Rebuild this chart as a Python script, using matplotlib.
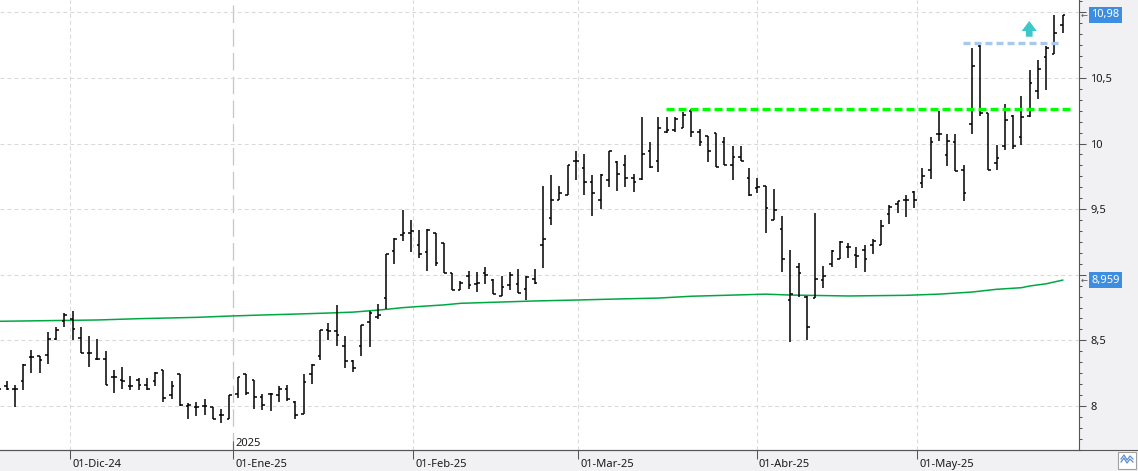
import matplotlib
matplotlib.use('Agg')
import matplotlib.pyplot as plt
import matplotlib.ticker as mticker
from matplotlib.patches import Rectangle
from matplotlib.lines import Line2D
import numpy as np

# one OHLC bar per session, index 0 = first (partly hidden) session
opens = [8.13, 8.15, 8.13, 8.19, 8.37, 8.38, 8.39, 8.51, 8.65, 8.66,
         8.52, 8.40, 8.36, 8.36, 8.22, 8.20, 8.15, 8.20, 8.16, 8.19,
         8.27, 8.08, 8.24, 8.00, 7.99, 8.00, 7.99, 7.93, 7.90, 8.09,
         8.24, 8.20, 8.07, 8.09, 8.08, 8.13, 8.03, 7.94, 8.24, 8.38,
         8.58, 8.57, 8.46, 8.34, 8.46, 8.64, 8.68, 8.82, 9.18, 9.30,
         9.32, 9.23, 9.17, 9.32, 9.24, 9.01, 8.88, 8.99, 8.93, 9.01,
         8.96, 8.84, 8.92, 8.93, 8.89, 8.97, 9.23, 9.43, 9.57, 9.61,
         9.87, 9.81, 9.71, 9.57, 9.72, 9.86, 9.84, 9.74, 9.73, 9.94,
         9.87, 10.09, 10.10, 10.12, 10.25, 10.09, 10.06, 10.08, 10.01, 9.84,
         9.90, 9.74, 9.66, 9.68, 9.42, 9.35, 8.81, 9.06, 8.83, 8.82,
         8.96, 9.08, 9.12, 9.21, 9.15, 9.19, 9.23, 9.23, 9.46, 9.54,
         9.57, 9.63, 9.70, 9.80, 10.07, 9.91, 10.01, 9.80, 10.15, 10.74,
         10.23, 9.85, 9.98, 10.21, 10.05, 10.21, 10.40, 10.66, 10.68, 10.90]
highs = [8.16, 8.19, 8.16, 8.32, 8.43, 8.38, 8.56, 8.60, 8.71, 8.72,
         8.60, 8.53, 8.51, 8.42, 8.27, 8.30, 8.23, 8.21, 8.21, 8.26,
         8.27, 8.19, 8.24, 8.02, 8.03, 8.05, 7.99, 7.98, 8.08, 8.22,
         8.24, 8.20, 8.09, 8.10, 8.15, 8.16, 8.04, 8.24, 8.32, 8.58,
         8.63, 8.77, 8.53, 8.35, 8.62, 8.72, 8.78, 9.16, 9.28, 9.49,
         9.42, 9.34, 9.35, 9.32, 9.24, 9.01, 8.95, 9.03, 9.02, 9.06,
         8.97, 8.99, 9.02, 9.04, 8.99, 9.04, 9.68, 9.76, 9.68, 9.84,
         9.94, 9.92, 9.76, 9.77, 9.94, 9.87, 9.91, 9.77, 10.20, 10.01,
         10.20, 10.20, 10.20, 10.24, 10.26, 10.11, 10.06, 10.08, 10.05, 9.98,
         9.98, 9.81, 9.74, 9.68, 9.65, 9.45, 9.19, 9.09, 8.84, 9.47,
         9.07, 9.19, 9.26, 9.24, 9.21, 9.23, 9.27, 9.42, 9.53, 9.56,
         9.61, 9.64, 9.81, 10.05, 10.25, 10.07, 10.07, 9.84, 10.73, 10.75,
         10.23, 9.99, 10.30, 10.22, 10.36, 10.56, 10.64, 10.74, 10.98, 10.98]
lows = [8.10, 8.12, 7.99, 8.12, 8.25, 8.25, 8.32, 8.50, 8.60, 8.50,
        8.40, 8.30, 8.35, 8.16, 8.10, 8.13, 8.12, 8.12, 8.12, 8.15,
        8.03, 8.05, 8.00, 7.90, 7.92, 7.93, 7.90, 7.87, 7.90, 8.06,
        8.08, 7.98, 7.97, 7.96, 8.03, 8.04, 7.90, 7.94, 8.17, 8.35,
        8.50, 8.46, 8.29, 8.26, 8.38, 8.45, 8.66, 8.74, 9.08, 9.26,
        9.17, 9.13, 9.03, 9.07, 9.01, 8.88, 8.88, 8.89, 8.87, 8.93,
        8.85, 8.84, 8.88, 8.86, 8.81, 8.93, 9.05, 9.38, 9.57, 9.61,
        9.72, 9.61, 9.45, 9.50, 9.67, 9.64, 9.67, 9.63, 9.72, 9.81,
        9.78, 10.08, 10.09, 10.12, 10.05, 9.98, 9.86, 9.82, 9.84, 9.72,
        9.87, 9.60, 9.62, 9.32, 9.42, 9.02, 8.49, 8.83, 8.50, 8.82,
        8.90, 9.06, 9.12, 9.13, 9.05, 9.02, 9.16, 9.23, 9.39, 9.47,
        9.44, 9.51, 9.66, 9.73, 10.02, 9.83, 9.79, 9.56, 10.07, 10.21,
        9.80, 9.80, 9.95, 9.96, 9.99, 10.20, 10.34, 10.41, 10.68, 10.84]
closes = [8.13, 8.13, 8.13, 8.31, 8.37, 8.35, 8.51, 8.58, 8.69, 8.59,
          8.40, 8.40, 8.36, 8.16, 8.22, 8.19, 8.15, 8.16, 8.13, 8.25,
          8.06, 8.15, 8.01, 8.01, 7.99, 8.00, 7.90, 7.93, 8.08, 8.22,
          8.10, 8.07, 8.01, 8.09, 8.13, 8.05, 7.93, 8.18, 8.31, 8.58,
          8.57, 8.54, 8.34, 8.29, 8.62, 8.71, 8.69, 9.16, 9.27, 9.32,
          9.33, 9.16, 9.34, 9.09, 9.01, 8.88, 8.94, 8.92, 8.94, 9.00,
          8.85, 8.91, 9.00, 8.86, 8.98, 8.94, 9.27, 9.57, 9.62, 9.84,
          9.87, 9.71, 9.62, 9.76, 9.94, 9.77, 9.74, 9.71, 9.92, 9.82,
          10.12, 10.10, 10.19, 10.22, 10.09, 10.01, 9.94, 9.82, 9.84, 9.90,
          9.87, 9.61, 9.67, 9.51, 9.49, 9.12, 8.85, 9.01, 8.60, 8.97,
          8.99, 9.18, 9.25, 9.21, 9.14, 9.12, 9.26, 9.37, 9.52, 9.56,
          9.57, 9.57, 9.75, 10.01, 10.07, 10.02, 9.79, 9.62, 10.59, 10.23,
          9.80, 9.89, 10.18, 9.98, 10.20, 10.46, 10.57, 10.73, 10.84, 10.98]

# moving average (session index, value)
ma_idx = [0, 12, 17, 24, 28, 32, 36, 40, 43, 45, 47, 49, 51, 54, 56, 60, 65,
          70, 75, 80, 84, 88, 93, 96, 103, 110, 114, 118, 121, 124, 125, 127, 129]
ma_val = [8.645, 8.655, 8.665, 8.675, 8.685, 8.693, 8.700, 8.708, 8.715, 8.725,
          8.736, 8.749, 8.758, 8.770, 8.782, 8.790, 8.800, 8.807, 8.815, 8.822,
          8.836, 8.843, 8.852, 8.845, 8.838, 8.843, 8.852, 8.868, 8.889, 8.901,
          8.914, 8.931, 8.959]

# month separators (session index where the month starts)
month_pos = [8.68, 28.43, 50.29, 70.3, 91.9, 111.4]
month_labels = ['01-Dic-24', '01-Ene-25', '01-Feb-25', '01-Mar-25', '01-Abr-25', '01-May-25']
year_pos = 28.43

# user drawings
support = (80.9, 129.9, 10.26)      # start, end, level
breakout = (116.9, 128.9, 10.764)
arrow_at = (124.95, 10.814, 10.934)

FONT = 'Noto Sans'

fig = plt.figure(figsize=(11.38, 4.71), dpi=100, facecolor='#f1f1f3')
ax = fig.add_axes([0, 21 / 471, 1079 / 1138, 450 / 471])
ax.set_facecolor('white')

x = np.arange(len(closes))
ax.vlines(x, lows, highs, color='black', lw=1.1, zorder=3)
ax.hlines(opens, x - 0.32, x, color='black', lw=1.1, zorder=3)
ax.hlines(closes, x, x + 0.32, color='black', lw=1.1, zorder=3)

ax.plot(ma_idx, ma_val, color='#00a844', lw=1.1, zorder=2.5)

ax.hlines(support[2], support[0], support[1], color='#00ff00', lw=2.4,
          linestyles=[(0, (2.4, 1.2))], zorder=5)
ax.hlines(breakout[2], breakout[0], breakout[1], color='#a9c8f0', lw=2.4,
          linestyles=[(0, (2.1, 1.2))], zorder=5)
ax.annotate('', xy=(arrow_at[0], arrow_at[2]), xytext=(arrow_at[0], arrow_at[1]),
            arrowprops=dict(facecolor='#3cc8c8', edgecolor='none', width=4.8,
                            headwidth=10.8, headlength=7.2, shrink=0), zorder=6)

ax.set_xlim(0.19, 130.98)
ax.set_ylim(7.664, 11.094)

# value boxes on the price axis hide the plain labels underneath them
boxed = [closes[-1], ma_val[-1]]


def price_label(v, _):
    if any(abs(v - b) < 0.1 for b in boxed):
        return ''
    return f'{v:g}'.replace('.', ',')


# grid
ax.yaxis.set_major_locator(mticker.MultipleLocator(0.5))
ax.yaxis.set_minor_locator(mticker.MultipleLocator(0.5 / 6))
ax.grid(axis='y', color='#d9d9d9', lw=0.75, linestyle=(0, (3.8, 2.9)), zorder=0)
for p in month_pos:
    if p == year_pos:
        ax.axvline(p, color='#c6c6c6', lw=0.9, linestyle=(0, (14, 5)), zorder=0)
    else:
        ax.axvline(p, color='#d9d9d9', lw=0.75, linestyle=(0, (3.8, 2.9)), zorder=0)

# axes frame
for s in ['top', 'left']:
    ax.spines[s].set_visible(False)
ax.spines['right'].set_color('#555555')
ax.spines['right'].set_linewidth(0.8)
ax.spines['bottom'].set_color('#555555')
ax.spines['bottom'].set_linewidth(0.8)
fig.add_artist(Line2D([0, 1], [21 / 471, 21 / 471], transform=fig.transFigure,
                      color='#555555', lw=0.8))

ax.yaxis.tick_right()
ax.tick_params(axis='y', which='major', length=5, width=0.75, color='#555555',
               pad=3, labelsize=8, labelcolor='#1a1a1a')
ax.tick_params(axis='y', which='minor', length=2.5, width=0.75, color='#555555')
ax.yaxis.set_major_formatter(mticker.FuncFormatter(price_label))
for lab in ax.get_yticklabels():
    lab.set_fontfamily(FONT)

ax.set_xticks(month_pos)
ax.set_xticklabels([''] * len(month_pos))
ax.tick_params(axis='x', length=6.5, width=0.75, color='#555555')

xt = ax.get_xaxis_transform()
for p, lab in zip(month_pos, month_labels):
    ax.text(p + 0.25, -17 / 450, lab, transform=xt, ha='left', va='baseline',
            fontsize=8, family=FONT, color='#1a1a1a', clip_on=False)
ax.text(year_pos + 0.25, 4 / 450, '2025', transform=xt, ha='left', va='baseline',
        fontsize=8, family=FONT, color='#1a1a1a', zorder=6)
ax.vlines(year_pos, 0, 9 / 450, transform=xt, colors='#666666', lw=0.8, clip_on=False)

# last value boxes on the price axis
yt = ax.get_yaxis_transform()
for val, txt in [(closes[-1], f'{closes[-1]:.2f}'), (ma_val[-1], f'{ma_val[-1]:.3f}')]:
    ax.text(1 + 12.4 / 1079, val, txt.replace('.', ','), transform=yt, ha='left',
            va='center', fontsize=8, family=FONT, color='white', zorder=10,
            clip_on=False, bbox=dict(boxstyle='square,pad=0.22', fc='#3d8ee0', ec='none'))
    ax.text(1 + 2 / 1079, val, '\u2190', transform=yt, ha='left', va='center',
            fontsize=6, family='DejaVu Sans', color='#555555', clip_on=False, zorder=10)

# small chart-type icon in the corner
fig.add_artist(Rectangle((1118 / 1138, 2 / 471), 18 / 1138, 17 / 471,
                         transform=fig.transFigure, fc='white', ec='#a0a0a0', lw=0.8))
for off in (0, 3):
    fig.add_artist(Line2D(np.array([1121, 1124, 1127, 1130, 1133]) / 1138,
                          (np.array([9, 13, 8, 12, 9]) + off) / 471,
                          transform=fig.transFigure, color='#5b8fd0', lw=0.9))

fig.savefig('out.png', dpi=100, facecolor=fig.get_facecolor())
